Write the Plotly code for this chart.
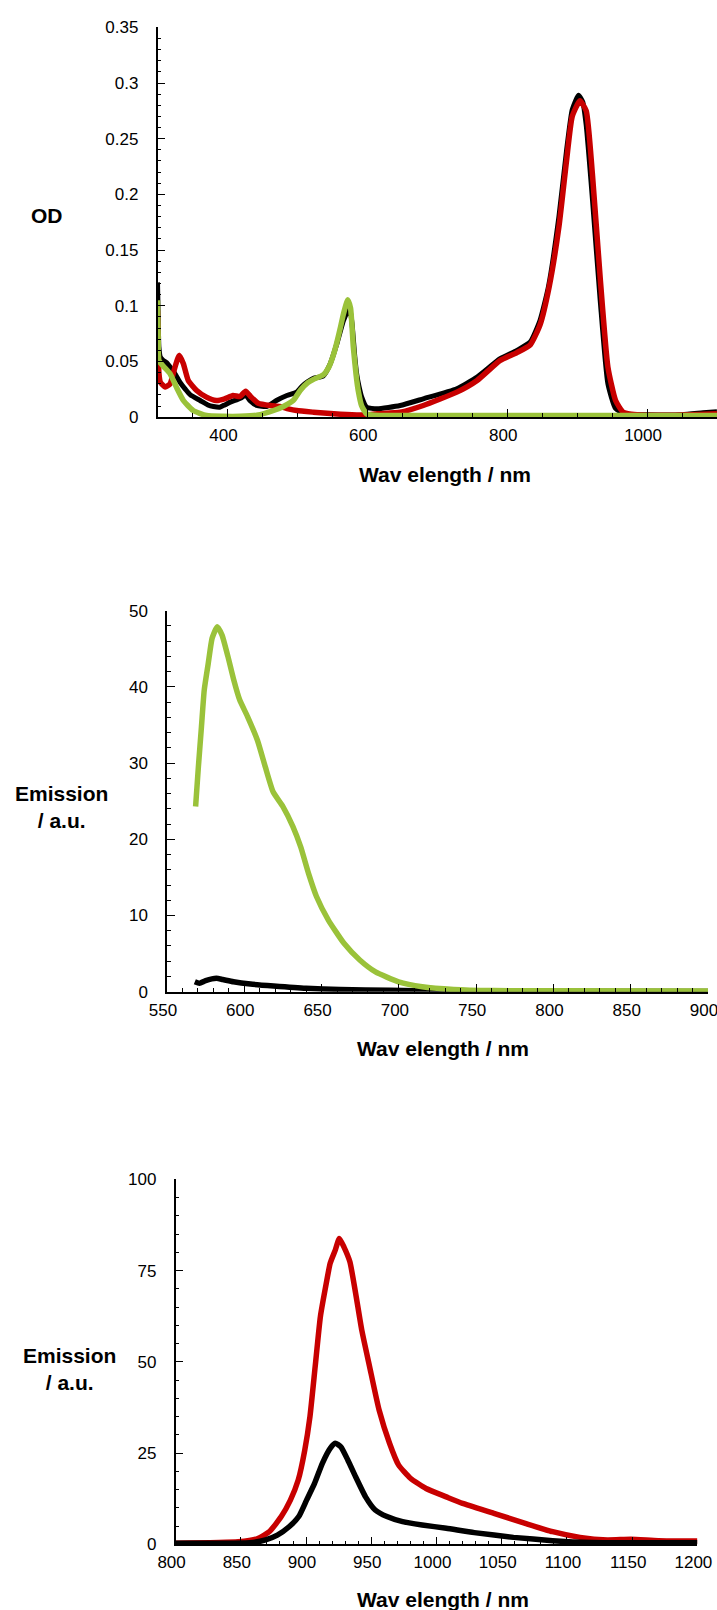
import plotly.graph_objects as go

# ---------------- data ----------------
# Panel 1: absorption (OD)
abs_black_nm = [300, 301, 302, 304, 308, 313, 318, 323, 332, 340, 347, 361, 372, 380, 389, 396, 404, 413, 420, 426,
                432, 442, 456, 470, 485, 499, 507, 514, 523, 537, 547, 556, 566, 572, 575, 578, 582, 585, 588, 592,
                599, 614, 647, 680, 728, 757, 790, 814, 833, 847, 859, 874, 885, 893, 902, 908, 913, 922, 933, 944,
                955, 969, 1000, 1050, 1080, 1100]
abs_black_od = [0.121, 0.09, 0.063, 0.054, 0.051, 0.049, 0.045, 0.041, 0.0315, 0.025, 0.020, 0.015, 0.011, 0.0096,
                0.009, 0.011, 0.0135, 0.0156, 0.0175, 0.020, 0.015, 0.0105, 0.0096, 0.015, 0.0195, 0.0225, 0.028,
                0.0315, 0.035, 0.037, 0.048, 0.065, 0.087, 0.095, 0.097, 0.085, 0.055, 0.038, 0.028, 0.018, 0.009,
                0.0075, 0.0105, 0.0165, 0.0255, 0.036, 0.0525, 0.060, 0.0675, 0.087, 0.117, 0.18, 0.24, 0.276,
                0.289, 0.283, 0.262, 0.195, 0.105, 0.030, 0.0078, 0.003, 0.0022, 0.0022, 0.004, 0.005]

abs_red_nm = [300, 301, 302, 304, 311, 318, 325, 331, 337, 344, 356, 370, 384, 396, 408, 418, 426, 434, 444, 461,
              475, 487, 499, 523, 552, 585, 600, 614, 647, 680, 728, 757, 790, 814, 833, 847, 860, 874, 885, 893,
              904, 913, 922, 933, 944, 955, 966, 990, 1050, 1100]
abs_red_od = [0.096, 0.06, 0.04, 0.0315, 0.027, 0.030, 0.045, 0.0555, 0.048, 0.033, 0.024, 0.018, 0.015, 0.0165,
              0.0195, 0.0186, 0.0234, 0.018, 0.0126, 0.0105, 0.0096, 0.0075, 0.006, 0.0045, 0.003, 0.002, 0.002,
              0.003, 0.0045, 0.0105, 0.0225, 0.033, 0.051, 0.058, 0.065, 0.083, 0.117, 0.171, 0.231, 0.27, 0.284,
              0.275, 0.217, 0.125, 0.045, 0.015, 0.0045, 0.002, 0.002, 0.003]

abs_green_nm = [300, 301, 302, 308, 318, 327, 337, 351, 370, 394, 418, 442, 466, 480, 494, 504, 515, 523, 537, 545,
                550, 556, 561, 566, 572, 576, 580, 584, 587, 592, 599, 610, 800, 1100]
abs_green_od = [0.105, 0.07, 0.051, 0.046, 0.039, 0.027, 0.015, 0.006, 0.0015, 0.0008, 0.0008, 0.0018, 0.006,
                0.0096, 0.015, 0.024, 0.031, 0.034, 0.038, 0.045, 0.053, 0.066, 0.079, 0.093, 0.1055, 0.098, 0.063,
                0.038, 0.024, 0.010, 0.003, 0.0018, 0.0015, 0.0015]

# Panel 2: visible emission
em1_green_nm = [568.5, 570.3, 572.3, 574.1, 576.7, 579.2, 582.5, 585.6, 589.4, 593.2, 597, 602.1, 608.5, 613.6,
                618.7, 625, 631.4, 636.5, 641.6, 646.7, 654.4, 664.5, 674.7, 684.9, 699.8, 715.1, 735.5, 761, 800, 900]
em1_green_val = [24.3, 29.5, 34.8, 39.6, 43.1, 46.4, 47.9, 46.8, 44.0, 40.9, 38.3, 36.1, 33.0, 29.5, 26.2, 24.3,
                 21.7, 19.0, 15.5, 12.5, 9.4, 6.35, 4.16, 2.6, 1.3, 0.66, 0.3, 0.15, 0.12, 0.1]
em1_black_nm = [568, 571, 575, 582, 586, 593, 604, 619, 640, 662, 694, 727, 770, 900]
em1_black_val = [1.3, 1.1, 1.45, 1.75, 1.6, 1.3, 1.0, 0.75, 0.45, 0.3, 0.18, 0.1, 0.05, 0.03]

# Panel 3: NIR emission
em2_red_nm = [800, 848, 863, 872, 881, 888, 894, 899, 903, 907, 911, 915.5, 918.5, 922.4, 925.5, 929, 933.6, 938,
              942.7, 948.7, 956, 964, 971, 980, 992, 1007.5, 1020, 1044, 1068, 1089, 1110, 1131, 1149, 1170, 1200]
em2_red_val = [0.3, 0.7, 1.6, 3.5, 7.6, 12.1, 17.6, 25.8, 35.0, 48.7, 62.4, 71.5, 77.0, 80.6, 83.8, 81.5, 77.4,
               68.8, 58.7, 48.7, 36.8, 27.7, 21.7, 18.1, 15.3, 13.0, 11.2, 8.5, 5.75, 3.45, 1.9, 1.2, 1.4, 1.0, 0.9]
em2_black_nm = [800, 857, 869, 878, 887, 894.4, 900.4, 906.5, 912.5, 918.5, 922.4, 926.7, 932, 938, 945.6, 953,
                962, 974, 989, 1007.5, 1029, 1059, 1089, 1119, 1200]
em2_black_val = [0.3, 0.4, 1.2, 2.5, 4.8, 7.6, 12.1, 16.7, 22.2, 26.3, 27.7, 26.7, 23.1, 18.5, 13.0, 9.4, 7.6,
                 6.2, 5.3, 4.4, 3.2, 1.9, 1.0, 0.5, 0.4]

# ---------------- style ----------------
W, H = 717, 1610
BLACK = "#000000"
RED = "#C80000"
GREEN = "#9AC23A"
FONT = "Arial, Liberation Sans, sans-serif"
TICKFONT = dict(family=FONT, size=17, color="black")
TITLEFONT = dict(family=FONT, size=21, color="black")


def px_x(p):
    return p / W


def px_y(p):
    return 1 - p / H


fig = go.Figure()


def line(x, y, color, xa, ya, width=5.5):
    fig.add_trace(go.Scatter(x=x, y=y, mode="lines",
                             line=dict(color=color, width=width, shape="spline", smoothing=0.5),
                             xaxis=xa, yaxis=ya, showlegend=False, hoverinfo="skip"))


line(abs_black_nm, abs_black_od, BLACK, "x", "y", 5)
line(abs_red_nm, abs_red_od, RED, "x", "y", 5.5)
line(abs_green_nm, abs_green_od, GREEN, "x", "y", 5.5)

line(em1_black_nm, em1_black_val, BLACK, "x2", "y2", 5.5)
line(em1_green_nm, em1_green_val, GREEN, "x2", "y2", 5.5)

line(em2_red_nm, em2_red_val, RED, "x3", "y3", 5.5)
line(em2_black_nm, em2_black_val, BLACK, "x3", "y3", 5.5)


def xaxis(dom, rng, dtick, mdtick, anchor):
    return dict(domain=dom, range=rng, dtick=dtick, tick0=0, anchor=anchor, automargin=False,
                showline=True, linecolor="black", linewidth=1.5, showgrid=False, zeroline=False,
                ticks="inside", ticklen=8, tickwidth=1, tickcolor="black",
                minor=dict(dtick=mdtick, tick0=0, ticks="inside", ticklen=4, tickwidth=1, tickcolor="black",
                           showgrid=False),
                tickfont=TICKFONT, ticklabelstandoff=2, ticklabelshift=-4,
                ticklabeloverflow="allow", fixedrange=True)


def yaxis(dom, rng, dtick, mdtick, anchor):
    return dict(domain=dom, range=rng, dtick=dtick, tick0=0, anchor=anchor, automargin=False,
                showline=True, linecolor="black", linewidth=1.5, showgrid=False, zeroline=False,
                ticks="inside", ticklen=8, tickwidth=1, tickcolor="black",
                minor=dict(dtick=mdtick, tick0=0, ticks="inside", ticklen=4, tickwidth=1, tickcolor="black",
                           showgrid=False),
                tickfont=TICKFONT, ticklabelstandoff=14, ticklabeloverflow="allow", fixedrange=True)


fig.update_layout(
    width=W, height=H, margin=dict(l=0, r=0, t=0, b=0, autoexpand=False),
    paper_bgcolor="white", plot_bgcolor="white", showlegend=False,
    xaxis=xaxis([px_x(157.5), 1.0], [300, 1100], 200, 50, "y"),
    yaxis=yaxis([px_y(417.2), px_y(27.3)], [0, 0.35], 0.05, 0.01, "x"),
    xaxis2=xaxis([px_x(167), px_x(708)], [550, 900], 50, 10, "y2"),
    yaxis2=yaxis([px_y(991.7), px_y(610.7)], [0, 50], 10, 2, "x2"),
    xaxis3=xaxis([px_x(175.6), px_x(697.4)], [800, 1200], 50, 10, "y3"),
    yaxis3=yaxis([px_y(1544.3), px_y(1179.3)], [0, 100], 25, 5, "x3"),
)


def title(text, cx, cy):
    fig.add_annotation(text=text, x=px_x(cx), y=px_y(cy), xref="paper", yref="paper",
                       xanchor="center", yanchor="middle", showarrow=False, align="center",
                       font=TITLEFONT)


title("<b>OD</b>", 46.7, 215.7)
title("<b>Wav elength / nm</b>", 444.6, 474)
title("<b>Emission<br>/ a.u.</b>", 61, 807)
title("<b>Wav elength / nm</b>", 443, 1048)
title("<b>Emission<br>/ a.u.</b>", 69, 1369)
title("<b>Wav elength / nm</b>", 442.7, 1599)

fig.write_html("out.html")
